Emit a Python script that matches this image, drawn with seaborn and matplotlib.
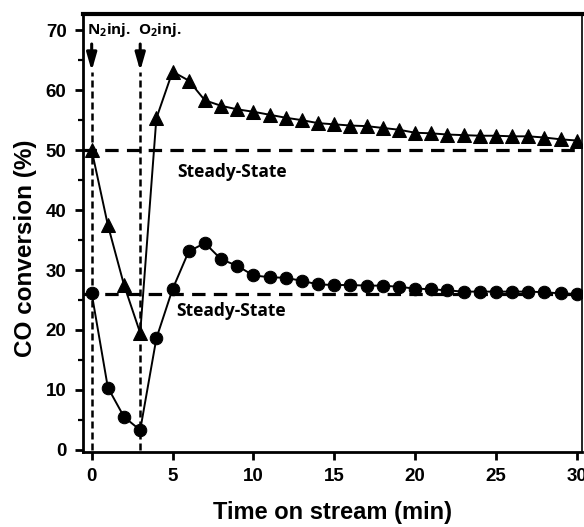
import numpy as np
import pandas as pd
import matplotlib
matplotlib.use("Agg")
import matplotlib.pyplot as plt
import seaborn as sns

# Time on stream (min)
time_min = list(range(0, 31))

# CO conversion (%) for the two runs
conv_high = [50.0, 37.5, 27.5, 19.5, 55.3, 63.1, 61.6, 58.3, 57.4, 56.8,
             56.4, 55.9, 55.4, 55.0, 54.5, 54.3, 54.1, 54.0, 53.7, 53.4,
             52.9, 52.8, 52.6, 52.5, 52.4, 52.4, 52.3, 52.3, 52.1, 51.8,
             51.6]
conv_low = [26.1, 10.4, 5.5, 3.3, 18.6, 26.8, 33.1, 34.5, 31.8, 30.7,
            29.1, 28.8, 28.7, 28.2, 27.6, 27.5, 27.5, 27.4, 27.4, 27.2,
            26.9, 26.8, 26.6, 26.4, 26.4, 26.4, 26.4, 26.4, 26.3, 26.1,
            26.0]

# Steady-state levels
steady_levels = [50.0, 26.0]

# Gas injection times (min) and their labels
inj_times = [0, 3]
inj_labels = ["N$_2$inj.", "O$_2$inj."]

x_ticks = [0, 5, 10, 15, 20, 25, 30]
y_ticks = [0, 10, 20, 30, 40, 50, 60, 70]

sns.set_style("ticks")
plt.rcParams["font.family"] = ["Liberation Sans", "DejaVu Sans"]
plt.rcParams["mathtext.fontset"] = "custom"
plt.rcParams["mathtext.rm"] = "Open Sans:bold"
plt.rcParams["mathtext.default"] = "rm"
plt.rcParams["text.color"] = "black"
plt.rcParams["axes.labelcolor"] = "black"

df = pd.DataFrame({"time": time_min, "high": conv_high, "low": conv_low})

fig = plt.figure(figsize=(5.84, 5.27), dpi=100)
ax = fig.add_axes([0.1426, 0.1429, 0.9960 - 0.1426, 0.9734 - 0.1429])

# steady-state reference lines
for lvl in steady_levels:
    ax.axhline(lvl, color="black", lw=2.3, ls=(0, (4.2, 2.6)), zorder=1)

# injection markers: dotted drop lines and arrows
for t in inj_times:
    ax.plot([t, t], [0, 63], color="black", lw=1.8, ls=(0, (2.8, 1.6)), zorder=1)
    ax.annotate("", xy=(t, 63.2), xytext=(t, 67.7),
                arrowprops=dict(arrowstyle="-|>,head_length=0.7,head_width=0.2",
                                color="black", lw=2.2, mutation_scale=15,
                                shrinkA=0, shrinkB=0))

sns.lineplot(data=df, x="time", y="high", ax=ax, color="black", lw=1.4,
             marker="^", markersize=10, markeredgecolor="black",
             markerfacecolor="black", zorder=3)
sns.lineplot(data=df, x="time", y="low", ax=ax, color="black", lw=1.4,
             marker="o", markersize=9, markeredgecolor="black",
             markerfacecolor="black", zorder=3)

# annotation texts
ax.text(-0.3, 70.0, inj_labels[0], fontsize=11, fontweight="bold",
        family="Open Sans", va="center", ha="left")
ax.text(2.85, 70.0, inj_labels[1], fontsize=11, fontweight="bold",
        family="Open Sans", va="center", ha="left")
ax.text(5.3, 46.4, "Steady-State", fontsize=12.5, fontweight="bold",
        family="Open Sans", va="center", ha="left")
ax.text(5.2, 23.1, "Steady-State", fontsize=12.5, fontweight="bold",
        family="Open Sans", va="center", ha="left")

ax.set_xlim(-0.52, 30.3)
ax.set_ylim(-0.3, 72.7)
ax.set_xticks(x_ticks)
ax.set_yticks(y_ticks)
ax.set_yticks(np.arange(5, 71, 10), minor=True)
ax.tick_params(axis="both", which="major", direction="out", length=6,
               width=2, labelsize=13.5, pad=6, colors="black")
ax.tick_params(axis="y", which="minor", direction="out", length=3.5, width=1.6,
               colors="black")
for lab in ax.get_xticklabels() + ax.get_yticklabels():
    lab.set_fontweight("bold")

ax.spines["top"].set_linewidth(3.0)
ax.spines["left"].set_linewidth(2.0)
ax.spines["bottom"].set_linewidth(2.0)
ax.spines["right"].set_linewidth(1.2)
for s in ax.spines.values():
    s.set_color("black")

ax.set_xlabel("Time on stream (min)", fontsize=17, fontweight="bold", color="black")
ax.set_ylabel("CO conversion (%)", fontsize=17.5, fontweight="bold", color="black")
ax.xaxis.set_label_coords(0.5, -0.113)
ax.yaxis.set_label_coords(-0.093, 0.465)

fig.savefig("out.png", dpi=100)
